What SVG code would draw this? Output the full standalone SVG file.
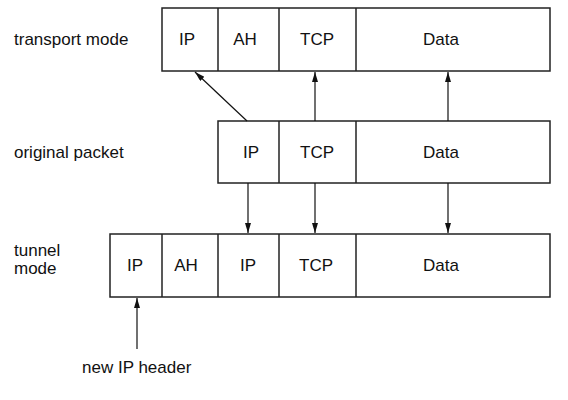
<svg xmlns="http://www.w3.org/2000/svg" width="568" height="400" viewBox="0 0 568 400">
<style>
.box{fill:#fff;stroke:#222;stroke-width:1.5}
.div{stroke:#222;stroke-width:1.5}
.lbl{font-family:"Liberation Sans",Arial,sans-serif;font-size:17px;fill:#111;text-anchor:middle}
.side{font-family:"Liberation Sans",Arial,sans-serif;font-size:17px;fill:#111}
.conn{stroke:#111;stroke-width:1.2;fill:none;marker-end:url(#ah)}
</style>
<defs>
<marker id="ah" markerUnits="userSpaceOnUse" markerWidth="11" markerHeight="7" refX="10" refY="3" orient="auto">
<path d="M0,0 L10,3 L0,6 z" fill="#111"/>
</marker>
</defs>
<rect width="568" height="400" fill="#fff"/>
<g id="transport-mode">
<text class="side" x="14" y="45">transport mode</text>
<rect class="box" x="162" y="8" width="388" height="63"/>
<line class="div" x1="218" y1="8" x2="218" y2="71"/>
<line class="div" x1="279" y1="8" x2="279" y2="71"/>
<line class="div" x1="356" y1="8" x2="356" y2="71"/>
<text class="lbl" x="187" y="45">IP</text>
<text class="lbl" x="245" y="45">AH</text>
<text class="lbl" x="317" y="45">TCP</text>
<text class="lbl" x="441" y="45">Data</text>
</g>
<g id="original-packet">
<text class="side" x="14" y="158">original packet</text>
<rect class="box" x="218" y="121" width="332" height="62"/>
<line class="div" x1="279" y1="121" x2="279" y2="183"/>
<line class="div" x1="356" y1="121" x2="356" y2="183"/>
<text class="lbl" x="251" y="158">IP</text>
<text class="lbl" x="317" y="158">TCP</text>
<text class="lbl" x="441" y="158">Data</text>
</g>
<g id="tunnel-mode">
<text class="side" x="14" y="256">tunnel</text>
<text class="side" x="14" y="274">mode</text>
<rect class="box" x="110" y="234" width="440" height="63"/>
<line class="div" x1="162" y1="234" x2="162" y2="297"/>
<line class="div" x1="218" y1="234" x2="218" y2="297"/>
<line class="div" x1="279" y1="234" x2="279" y2="297"/>
<line class="div" x1="356" y1="234" x2="356" y2="297"/>
<text class="lbl" x="135" y="271">IP</text>
<text class="lbl" x="186" y="271">AH</text>
<text class="lbl" x="248" y="271">IP</text>
<text class="lbl" x="316" y="271">TCP</text>
<text class="lbl" x="441" y="271">Data</text>
</g>
<g id="new-ip-header">
<text class="side" x="82" y="373">new IP header</text>
</g>
<g id="connectors">
<line class="conn" x1="247" y1="121" x2="195" y2="72"/>
<line class="conn" x1="315" y1="121" x2="315" y2="72"/>
<line class="conn" x1="448" y1="121" x2="448" y2="72"/>
<line class="conn" x1="248" y1="183" x2="248" y2="233"/>
<line class="conn" x1="315" y1="183" x2="315" y2="233"/>
<line class="conn" x1="448" y1="183" x2="448" y2="233"/>
<line class="conn" x1="137" y1="349" x2="137" y2="298"/>
</g>
</svg>
